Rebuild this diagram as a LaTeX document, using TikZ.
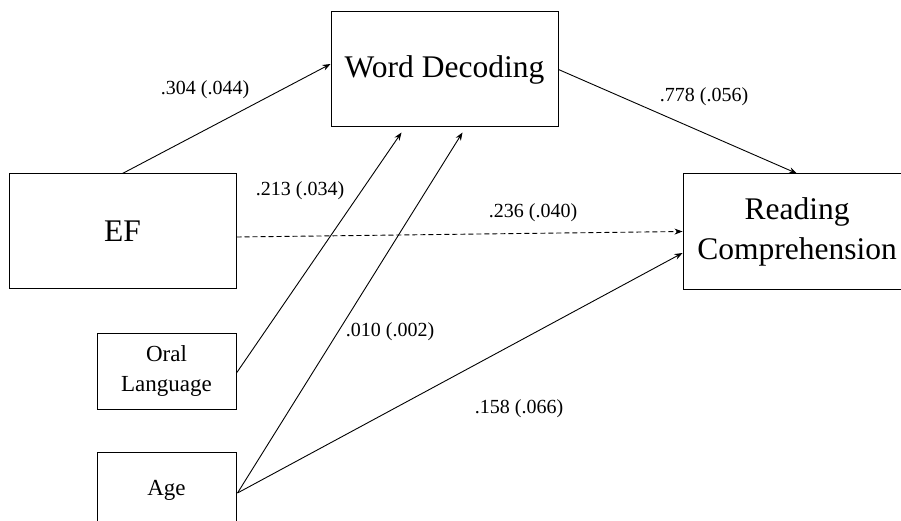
\documentclass[tikz,border=0pt]{standalone}
\usepackage{fontspec}
\setmainfont{Liberation Serif}
\usetikzlibrary{arrows.meta}
\begin{document}
\begin{tikzpicture}[x=1pt,y=-1pt,
  box/.style={draw, line width=1pt, inner sep=0pt, align=center},
  big/.style={font=\fontsize{31.5}{40}\selectfont},
  small/.style={font=\fontsize{23}{29}\selectfont, align=center},
  coef/.style={font=\fontsize{20}{24}\selectfont, inner sep=0pt},
  path/.style={line width=0.9pt, -{Stealth[length=8pt,width=6pt]}}]
\useasboundingbox (0,0) rectangle (901,521);
\clip (0,0) rectangle (901,521);
% boxes
\node[box, big, minimum width=227, minimum height=115] (wd) at (444.5,69.5) {Word Decoding};
\node[box, big, minimum width=227, minimum height=114] (ef) at (122.5,231) {EF};
\node[box, big, minimum width=228, minimum height=115, text width=228pt] (rc) at (797,231.5) {Reading\\Comprehension};
\node[box, small, minimum width=139, minimum height=76] (oral) at (166.5,371) {Oral\\Language};
\node[box, small, minimum width=139, minimum height=76] (age) at (166.5,490) {Age};
% paths
\draw[path] (ef.north) -- ([yshift=5.5pt]wd.west);
\draw[path] (wd.east) -- (rc.north);
\draw[path, dashed, dash pattern=on 5pt off 3pt] ([yshift=-6pt]ef.east) -- (rc.west);
\draw[path] ([yshift=-2pt]oral.east) -- ([xshift=71pt,yshift=-5pt]wd.south west);
\draw[path] ([xshift=1pt,yshift=-3pt]age.east) -- ([xshift=132pt,yshift=-5pt]wd.south west);
\draw[path] ([xshift=1pt,yshift=-3pt]age.east) -- ([yshift=-21.5pt]rc.west);
% coefficients
\node[coef] (c1) at (205,90) {.304 (.044)};
\node[coef] (c2) at (300,191) {.213 (.034)};
\node[coef] (c3) at (533,213) {.236 (.040)};
\node[coef] (c4) at (704,97) {.778 (.056)};
\node[coef] (c5) at (390,332) {.010 (.002)};
\node[coef] (c6) at (519,409) {.158 (.066)};
\end{tikzpicture}
\end{document}
